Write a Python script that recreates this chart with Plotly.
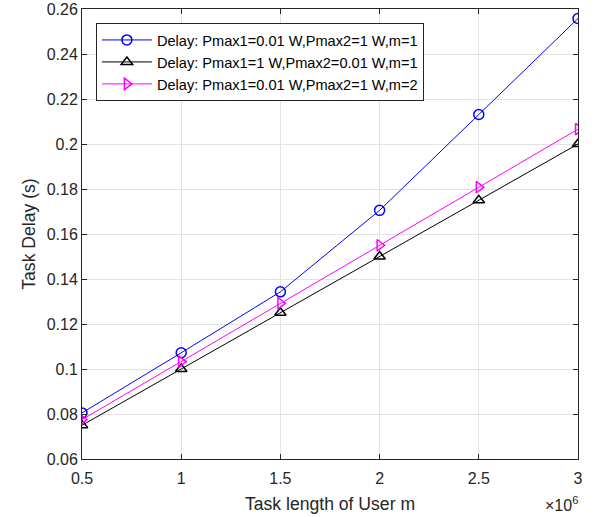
import plotly.graph_objects as go

# Task length of user m (in units of 1e6)
task_length = [0.5, 1.0, 1.5, 2.0, 2.5, 3.0]

# Task delay (s) for each power configuration
delay_p001_p1_m1 = [0.0805, 0.1072, 0.1343, 0.1705, 0.2131, 0.2558]
delay_p1_p001_m1 = [0.0750, 0.1000, 0.1250, 0.1500, 0.1750, 0.2000]
delay_p001_p1_m2 = [0.0775, 0.1033, 0.1292, 0.1550, 0.1808, 0.2066]

series_names = [
    "Delay: Pmax1=0.01 W,Pmax2=1 W,m=1",
    "Delay: Pmax1=1 W,Pmax2=0.01 W,m=1",
    "Delay: Pmax1=0.01 W,Pmax2=1 W,m=2",
]
x_ticks = [0.5, 1, 1.5, 2, 2.5, 3]
x_tick_text = ["0.5", "1", "1.5", "2", "2.5", "3"]
y_ticks = [0.06, 0.08, 0.10, 0.12, 0.14, 0.16, 0.18, 0.20, 0.22, 0.24, 0.26]
y_tick_text = ["0.06", "0.08", "0.1", "0.12", "0.14", "0.16", "0.18", "0.2", "0.22", "0.24", "0.26"]

styles = [
    dict(color="#0000ff", symbol="circle-open"),
    dict(color="#000000", symbol="triangle-up-open"),
    dict(color="#ff00ff", symbol="triangle-right-open"),
]

fig = go.Figure()
for name, ys, st in zip(series_names, [delay_p001_p1_m1, delay_p1_p001_m1, delay_p001_p1_m2], styles):
    fig.add_trace(go.Scatter(
        x=task_length, y=ys, name=name, mode="lines+markers",
        line=dict(color=st["color"], width=1),
        marker=dict(symbol=st["symbol"], size=10, color=st["color"],
                    line=dict(color=st["color"], width=1.5)),
    ))

font_family = "Liberation Sans, Arial, sans-serif"
axis_common = dict(
    showline=True, linecolor="#262626", linewidth=1, mirror="allticks",
    ticks="inside", ticklen=5, tickcolor="#262626",
    showgrid=True, gridcolor="#e3e3e3", gridwidth=1, zeroline=False,
    tickfont=dict(size=16, color="#262626", family=font_family),
    automargin=False,
)

fig.update_layout(
    width=598, height=517,
    margin=dict(l=82, r=20, t=9, b=58),
    paper_bgcolor="white", plot_bgcolor="white",
    font=dict(family=font_family, color="#262626"),
    showlegend=True,
    legend=dict(
        x=0.028, y=0.969, xanchor="left", yanchor="top",
        bgcolor="white", bordercolor="#262626", borderwidth=1,
        font=dict(size=14.6, color="#000000", family=font_family),
        tracegroupgap=0, itemwidth=50,
    ),
    xaxis=dict(
        range=[0.5, 3], tickvals=x_ticks, ticktext=x_tick_text, ticklabelstandoff=5,
        title=dict(text="Task length of User m", font=dict(size=17.6, color="#262626"), standoff=11),
        **axis_common,
    ),
    yaxis=dict(
        range=[0.06, 0.26], tickvals=y_ticks, ticktext=y_tick_text,
        title=dict(text="Task Delay (s)", font=dict(size=17.6, color="#262626"), standoff=6),
        **axis_common,
    ),
)

fig.add_annotation(
    x=1, y=0, xref="paper", yref="paper", xanchor="right", yanchor="top",
    yshift=-33, xshift=2, showarrow=False,
    text="×10<sup>6</sup>", font=dict(size=16, color="#262626", family=font_family),
)

fig.write_html("out.html")
